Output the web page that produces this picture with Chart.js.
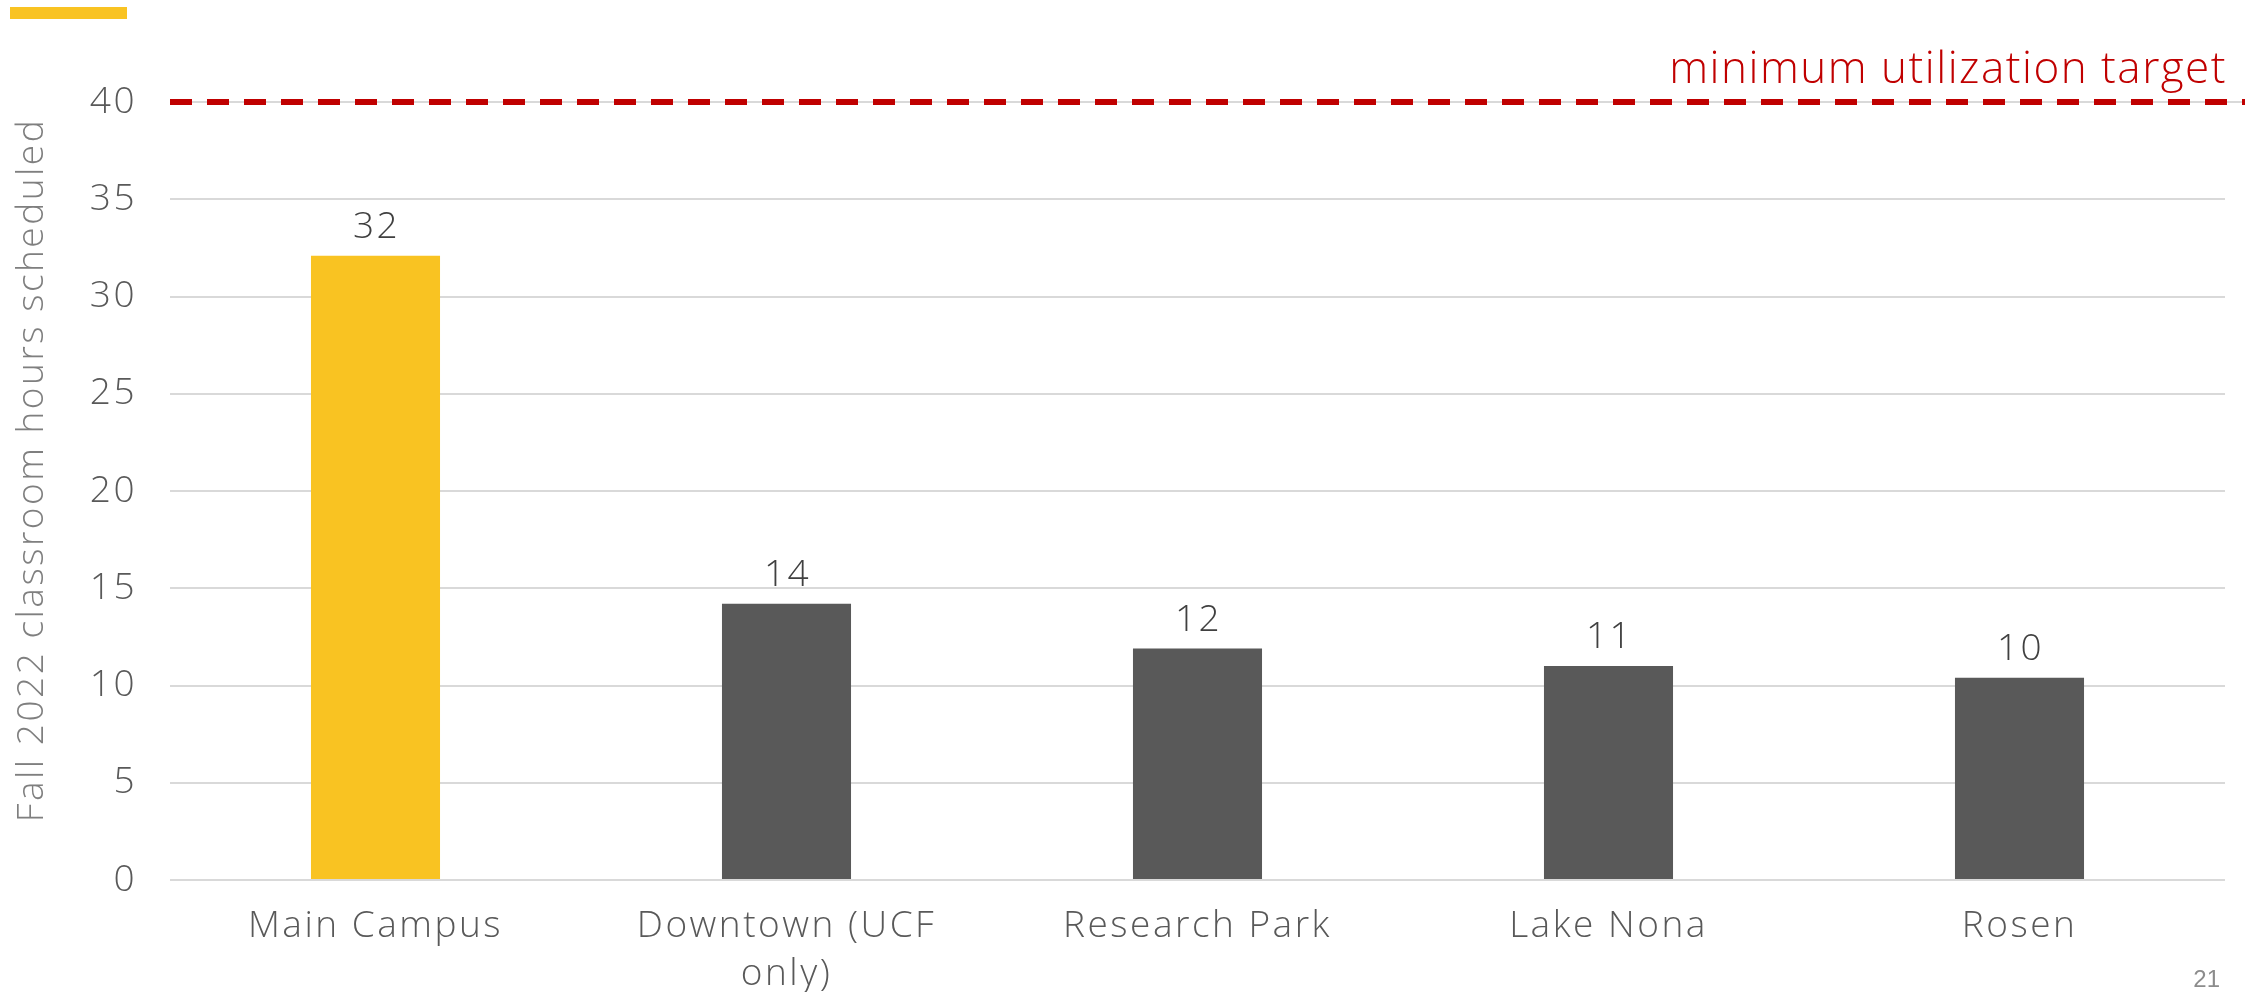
<!DOCTYPE html>
<html>
<head>
<meta charset="utf-8">
<script src="https://cdn.jsdelivr.net/npm/chart.js@4.4.1/dist/chart.umd.min.js"></script>
<style>
  html, body { margin: 0; padding: 0; background: #fff; }
  #wrap { width: 2265px; height: 992px; position: relative; }
</style>
</head>
<body>
<div id="wrap"><canvas id="utilCanvas" width="2265" height="992"></canvas></div>
<script>
// data
const campuses = ['Main Campus', ['Downtown (UCF', 'only)'], 'Research Park', 'Lake Nona', 'Rosen'];
const hoursScheduled = [32.1, 14.2, 11.9, 11.0, 10.4];
const barColors = ['#F9C322', '#595959', '#595959', '#595959', '#595959'];
const yTicks = [0, 5, 10, 15, 20, 25, 30, 35, 40];
const targetHours = 40;
const targetLabel = 'minimum utilization target';
const axisTitle = 'Fall 2022 classroom hours scheduled';
const pageNumber = '21';

const FONT = "'Open Sans', 'DejaVu Sans', sans-serif";
const SPACING = '2.5px';

// the original font is wider than Open Sans, so space the letters out a bit
const wideText = {
    id: 'wideText',
    beforeUpdate(chart) { chart.ctx.letterSpacing = SPACING; },
    beforeDraw(chart) { chart.ctx.letterSpacing = SPACING; }
};

// value labels above each bar
const barLabels = {
    id: 'barLabels',
    afterDatasetsDraw(chart) {
        var ctx = chart.ctx;
        var meta = chart.getDatasetMeta(0);
        ctx.save();
        ctx.font = '300 37px ' + FONT;
        ctx.fillStyle = '#404040';
        ctx.textAlign = 'center';
        ctx.textBaseline = 'alphabetic';
        meta.data.forEach(function (bar, i) {
            ctx.fillText(String(Math.round(hoursScheduled[i])), bar.x + 1, bar.y - 18);
        });
        ctx.restore();
    }
};

// dashed target line, its caption, the y title and the slide decorations
const targetLine = {
    id: 'targetLine',
    afterDraw(chart) {
        var ctx = chart.ctx;
        var y = chart.scales.y.getPixelForValue(targetHours);
        var x0 = chart.chartArea.left;
        var x1 = chart.width - 20;
        ctx.save();
        ctx.strokeStyle = '#D9D9D9';
        ctx.lineWidth = 2;
        ctx.beginPath();
        ctx.moveTo(x0, y);
        ctx.lineTo(x1, y);
        ctx.stroke();

        ctx.strokeStyle = '#C00000';
        ctx.lineWidth = 6;
        ctx.setLineDash([22, 15]);
        ctx.beginPath();
        ctx.moveTo(x0, y);
        ctx.lineTo(x1, y);
        ctx.stroke();
        ctx.setLineDash([]);

        ctx.letterSpacing = '1.5px';
        ctx.font = '300 44px ' + FONT;
        ctx.fillStyle = '#C00000';
        ctx.textAlign = 'right';
        ctx.textBaseline = 'alphabetic';
        ctx.fillText(targetLabel, chart.chartArea.right + 2, y - 19);

        // axis title, sits a little above the middle of the plot in the original
        ctx.letterSpacing = SPACING;
        ctx.save();
        ctx.translate(32, 470);
        ctx.rotate(-Math.PI / 2);
        ctx.font = '300 37px ' + FONT;
        ctx.fillStyle = '#7F7F7F';
        ctx.textAlign = 'center';
        ctx.textBaseline = 'middle';
        ctx.fillText(axisTitle, 0, 0);
        ctx.restore();

        ctx.fillStyle = '#F9C322';
        ctx.fillRect(10, 7, 117, 12);

        ctx.letterSpacing = '0px';
        ctx.font = '24px "Liberation Sans", sans-serif';
        ctx.fillStyle = '#8C8C8C';
        ctx.textAlign = 'right';
        ctx.textBaseline = 'alphabetic';
        ctx.fillText(pageNumber, 2220, 987);
        ctx.restore();
    }
};

new Chart(document.getElementById('utilCanvas'), {
    type: 'bar',
    data: {
        labels: campuses,
        datasets: [
            {
                data: hoursScheduled,
                backgroundColor: barColors,
                borderWidth: 0,
                categoryPercentage: 1,
                barPercentage: 0.314
            }
        ]
    },
    options: {
        responsive: false,
        animation: false,
        layout: { padding: { top: 102, right: 40, left: 0, bottom: 0 } },
        plugins: {
            legend: { display: false },
            tooltip: { enabled: false }
        },
        scales: {
            x: {
                grid: { display: false },
                border: { display: false },
                ticks: {
                    color: '#595959',
                    font: { family: FONT, size: 37, weight: '300', lineHeight: 1.3 },
                    padding: 14,
                    maxRotation: 0
                },
                afterFit: function (s) { s.height = 112; }
            },
            y: {
                min: 0,
                max: 40,
                afterBuildTicks: function (s) {
                    s.ticks = yTicks.map(function (v) { return { value: v }; });
                },
                grid: { color: '#D9D9D9', lineWidth: 2, drawTicks: false },
                border: { display: false },
                ticks: {
                    color: '#595959',
                    font: { family: FONT, size: 37, weight: '300' },
                    padding: 33
                },
                afterFit: function (s) { s.width = 170; }
            }
        }
    },
    plugins: [wideText, barLabels, targetLine]
});
</script>
</body>
</html>
